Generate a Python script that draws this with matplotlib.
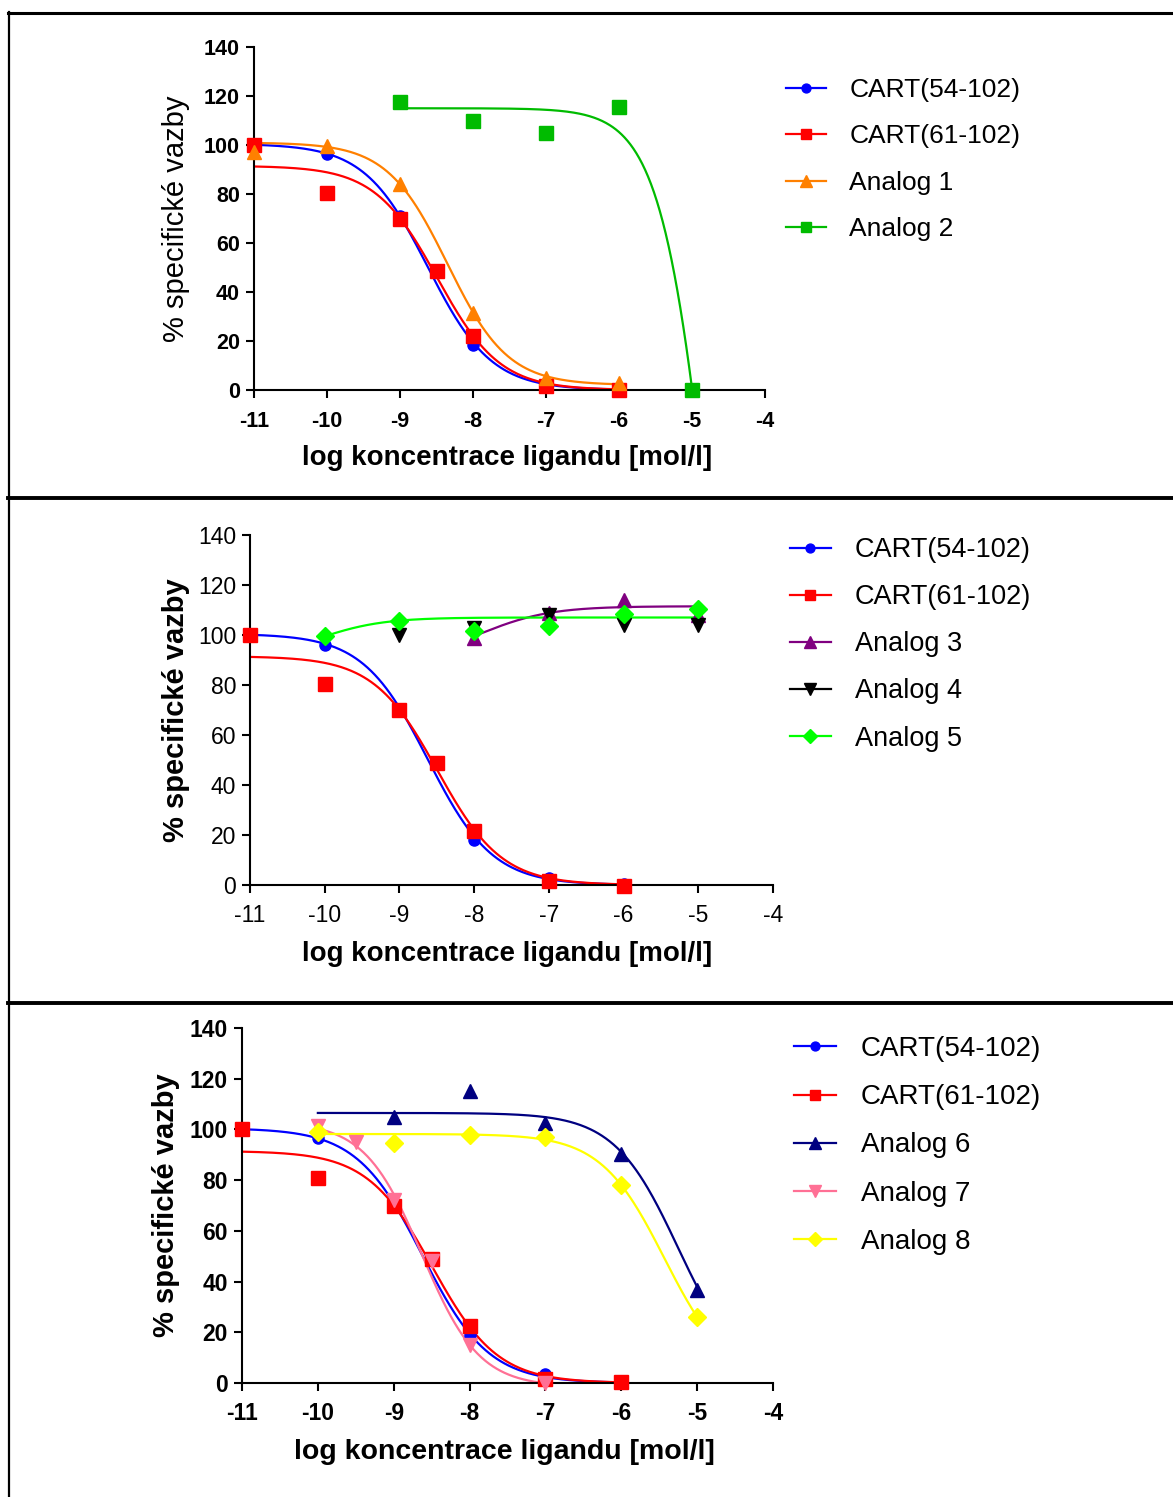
import numpy as np
import matplotlib
matplotlib.use('Agg')
import matplotlib.pyplot as plt
from matplotlib.lines import Line2D

# ---- measured points (log conc, % specific binding) ----
# panel 1
p1_x_cart54 = [-11, -10, -9, -8, -7, -6]
p1_y_cart54 = [100, 96.5, 71, 18.5, 2, 0.5]
p1_x_cart61 = [-11, -10, -9, -8.5, -8, -7, -6]
p1_y_cart61 = [100, 80.5, 70, 48.5, 22, 1.5, 0]
p1_x_an1 = [-11, -10, -9, -8, -7, -6]
p1_y_an1 = [97, 99.5, 84, 31.5, 5, 3]
p1_x_an2 = [-9, -8, -7, -6, -5]
p1_y_an2 = [117.5, 110, 105, 115.5, 0]

# panel 2
p2_x_cart54 = [-11, -10, -9, -8, -7, -6]
p2_y_cart54 = [100, 96, 70, 18, 3, 0.5]
p2_x_cart61 = [-11, -10, -9, -8.5, -8, -7, -6]
p2_y_cart61 = [100, 80.5, 70, 49, 21.5, 1.5, -0.5]
p2_x_an3 = [-8, -7, -6, -5]
p2_y_an3 = [99, 109, 114, 108]
p2_x_an4 = [-9, -8, -7, -6, -5]
p2_y_an4 = [100, 103, 108, 104, 104]
p2_x_an5 = [-10, -9, -8, -7, -6, -5]
p2_y_an5 = [99.5, 105.5, 101.5, 103.5, 108.5, 110.5]

# panel 3
p3_x_cart54 = [-11, -10, -9, -8, -7, -6]
p3_y_cart54 = [100, 96.5, 70, 19, 3.5, 0.5]
p3_x_cart61 = [-11, -10, -9, -8.5, -8, -7, -6]
p3_y_cart61 = [100, 81, 70, 49, 22.5, 1.5, 0.5]
p3_x_an6 = [-9, -8, -7, -6, -5]
p3_y_an6 = [105, 115, 102.5, 90.5, 36.5]
p3_x_an7 = [-10, -9.5, -9, -8.5, -8, -7]
p3_y_an7 = [101.5, 95, 72, 48, 15, 0]
p3_x_an8 = [-10, -9, -8, -7, -6, -5]
p3_y_an8 = [99, 94.5, 98, 97, 78, 26]

# ---- fitted sigmoid curves (left plateau, right plateau, logEC50, hill, x from, x to) ----
fit_cart54 = [100.5, 0, -8.62, 1.0, -11, -6]
fit_cart61 = [91.5, 0, -8.49, 1.01, -11, -6]
fit_an1 = [101, 2, -8.35, 1.05, -11, -6]
fit_an2 = [115, -300, -4.65, 1.2, -9, -5]
fit_an3 = [90, 111.5, -7.9, 0.94, -8, -5]
fit_an5 = [90, 107, -10.1, 1.0, -10, -5]
fit_an6 = [106.5, 0, -5.25, 1.03, -10, -5]
fit_an7 = [103, -1.5, -8.63, 1.15, -10, -7]
fit_an8 = [98.2, 0, -5.43, 1.03, -10, -5]

ticks_x = [-11, -10, -9, -8, -7, -6, -5, -4]
ticks_y = [0, 20, 40, 60, 80, 100, 120, 140]

REG = ['Liberation Sans']


def sigmoid_curve(fit):
    left, right, c, h, x0, x1 = fit
    xs = np.linspace(x0, x1, 300)
    return xs, right + (left - right) / (1 + 10 ** ((xs - c) * h))


def draw_panel(rect, series, style):
    ax = fig.add_axes(rect)
    handles = []
    for label, xs, ys, fit, color, marker, ms in series:
        if fit is not None:
            cx, cy = sigmoid_curve(fit)
            ax.plot(cx, cy, color=color, lw=1.6, zorder=2)
        ax.plot(xs, ys, ls='none', marker=marker, ms=ms, color=color,
                mec=color, zorder=3, clip_on=False)
        handles.append(Line2D([], [], color=color, lw=1.6, marker=marker,
                              ms=ms * 0.8, mec=color))
    ax.set_xlim(-11, -4)
    ax.set_ylim(0, 140)
    ax.set_xticks(ticks_x)
    ax.set_yticks(ticks_y)
    ax.set_xticklabels(['-11', '-10', '-9', '-8', '-7', '-6', '-5', '-4'])
    for s in ['top', 'right']:
        ax.spines[s].set_visible(False)
    for s in ['left', 'bottom']:
        ax.spines[s].set_linewidth(1.5)
    ax.tick_params(width=1.5, length=6, direction='out', pad=4)
    ax.tick_params(axis='x', pad=style['xpad'])
    for t in ax.get_xticklabels() + ax.get_yticklabels():
        t.set_family(REG)
        t.set_fontsize(style['tsize'])
        t.set_fontweight(style['tweight'])
    ax.set_xlabel('log koncentrace ligandu [mol/l]', family=REG,
                  fontsize=style['xlsize'], fontweight='bold')
    ax.set_ylabel('% specifické vazby', family=REG,
                  fontsize=style['ylsize'], fontweight=style['ylweight'])
    ax.xaxis.set_label_coords(*style['xl'])
    ax.yaxis.set_label_coords(*style['yl'])
    fig.legend(handles, [s[0] for s in series], loc='upper left',
               bbox_to_anchor=style['leg'], frameon=False, borderpad=0,
               borderaxespad=0, handlelength=1.5, handletextpad=0.9,
               labelspacing=style['lspace'], numpoints=1,
               prop={'family': REG, 'size': style['legsize']})
    return ax


fig = plt.figure(figsize=(11.73, 14.97), dpi=100)
W, H = 1173.0, 1497.0

# panel 1
draw_panel([254 / W, 1 - 390 / H, 511 / W, 343 / H], [
    ('CART(54-102)', p1_x_cart54, p1_y_cart54, fit_cart54, '#0000FF', 'o', 8),
    ('CART(61-102)', p1_x_cart61, p1_y_cart61, fit_cart61, '#FF0000', 's', 9.5),
    ('Analog 1', p1_x_an1, p1_y_an1, fit_an1, '#FF8000', '^', 10.5),
    ('Analog 2', p1_x_an2, p1_y_an2, fit_an2, '#00BB00', 's', 9.5),
], dict(tsize=15.5, tweight='bold', xlsize=20, ylsize=21, xpad=9,
        ylweight='normal', xl=(0.495, -0.16), yl=(-0.125, 0.5),
        leg=(786 / W, 1 - 78 / H), legsize=19, lspace=0.85))

# panel 2
draw_panel([250 / W, 1 - 885 / H, 523 / W, 350 / H], [
    ('CART(54-102)', p2_x_cart54, p2_y_cart54, fit_cart54, '#0000FF', 'o', 8),
    ('CART(61-102)', p2_x_cart61, p2_y_cart61, fit_cart61, '#FF0000', 's', 9.5),
    ('Analog 3', p2_x_an3, p2_y_an3, fit_an3, '#800080', '^', 10.5),
    ('Analog 4', p2_x_an4, p2_y_an4, None, '#000000', 'v', 10.5),
    ('Analog 5', p2_x_an5, p2_y_an5, fit_an5, '#00FF00', 'D', 9),
], dict(tsize=16.5, tweight='normal', xlsize=20, ylsize=21, xpad=7.5,
        ylweight='bold', xl=(0.492, -0.16), yl=(-0.115, 0.5),
        leg=(790 / W, 1 - 537 / H), legsize=19.5, lspace=0.78))

# panel 3
draw_panel([242 / W, 1 - 1383 / H, 531 / W, 355 / H], [
    ('CART(54-102)', p3_x_cart54, p3_y_cart54, fit_cart54, '#0000FF', 'o', 8),
    ('CART(61-102)', p3_x_cart61, p3_y_cart61, fit_cart61, '#FF0000', 's', 9.5),
    ('Analog 6', p3_x_an6, p3_y_an6, fit_an6, '#000080', '^', 10.5),
    ('Analog 7', p3_x_an7, p3_y_an7, fit_an7, '#FF7095', 'v', 10.5),
    ('Analog 8', p3_x_an8, p3_y_an8, fit_an8, '#FFFF00', 'D', 9),
], dict(tsize=16.5, tweight='bold', xlsize=20.5, ylsize=21, xpad=7.5,
        ylweight='bold', xl=(0.494, -0.158), yl=(-0.117, 0.5),
        leg=(794 / W, 1 - 1036 / H), legsize=20, lspace=0.8))

# outer frame and separators
fig.add_artist(Line2D([9 / W, 9 / W], [0, 1 - 12 / H], color='black', lw=1.6,
                      transform=fig.transFigure))
for yy, lw in [(13, 2.2), (498, 2.8), (1003, 2.8)]:
    fig.add_artist(Line2D([8 / W, 1], [1 - yy / H, 1 - yy / H], color='black',
                          lw=lw, transform=fig.transFigure))

fig.savefig('out.png', dpi=100)
